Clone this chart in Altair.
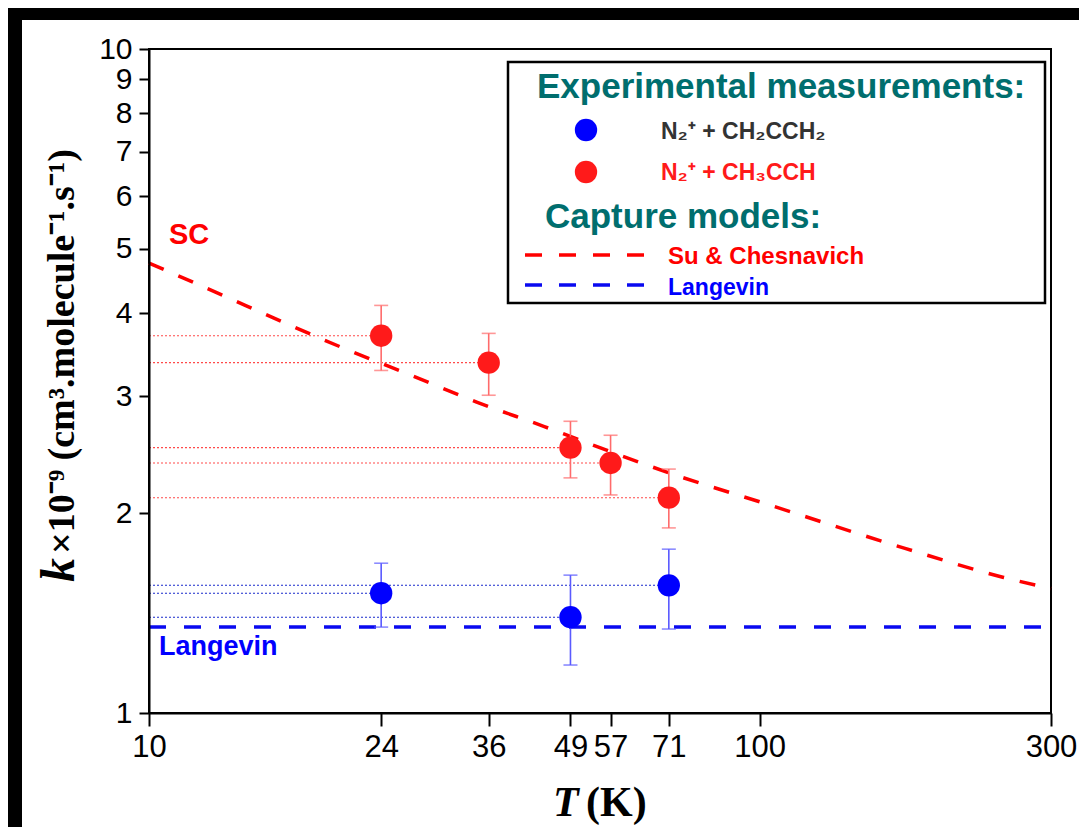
import altair as alt
import pandas as pd

# ---- data ----
T_sc = [10, 11.7, 21.2, 27, 34.4, 44.4, 56, 72, 100, 173, 251, 300]
k_sc = [4.76, 4.47, 3.52, 3.22, 2.94, 2.70, 2.49, 2.29, 2.08, 1.77, 1.60, 1.54]

T_lang = [10, 300]
k_lang = [1.347, 1.347]

T_red = [24, 36, 49, 57, 71]
k_red = [3.70, 3.37, 2.51, 2.38, 2.11]
k_red_lo = [3.28, 3.01, 2.26, 2.13, 1.90]
k_red_hi = [4.11, 3.73, 2.75, 2.62, 2.33]

T_blue = [24, 49, 71]
k_blue = [1.515, 1.394, 1.557]
k_blue_lo = [1.347, 1.181, 1.338]
k_blue_hi = [1.681, 1.613, 1.765]

x_ticks = [10, 24, 36, 49, 57, 71, 100, 300]
y_ticks = [1, 2, 3, 4, 5, 6, 7, 8, 9, 10]

T_min = 10

# ---- tables ----
sc_df = pd.DataFrame({"T": T_sc, "k": k_sc})
lang_df = pd.DataFrame({"T": T_lang, "k": k_lang})
red_df = pd.DataFrame({"T": T_red, "k": k_red, "lo": k_red_lo, "hi": k_red_hi,
                       "T0": [T_min] * len(T_red)})
blue_df = pd.DataFrame({"T": T_blue, "k": k_blue, "lo": k_blue_lo, "hi": k_blue_hi,
                        "T0": [T_min] * len(T_blue)})
one = pd.DataFrame({"a": [0]})

SANS = "Liberation Sans"
SERIF = "Liberation Serif"
TEAL = "#006e6e"
RED = "#ff1a1a"
BLUE = "#0000ff"

xs = alt.Scale(type="log", domain=[10, 300], nice=False)
ys = alt.Scale(type="log", domain=[1, 10], nice=False)

x_axis = alt.Axis(values=x_ticks, format="~g", title=None, grid=False,
                  labelFont=SANS, labelFontSize=31, labelColor="black",
                  labelPadding=6, labelFlush=False, labelOverlap=False,
                  tickSize=13, tickWidth=2, tickColor="black",
                  domainColor="black", domainWidth=2, zindex=1)
y_axis = alt.Axis(values=y_ticks, format="~g", title=None, grid=False,
                  labelFont=SANS, labelFontSize=30, labelColor="black",
                  labelPadding=7, labelFlush=False, labelOverlap=False,
                  labelBound=False,
                  tickSize=10, tickWidth=2, tickColor="black",
                  domainColor="black", domainWidth=2, zindex=1)


def X(field):
    return alt.X(field, type="quantitative", scale=xs, axis=x_axis)


def Y(field):
    return alt.Y(field, type="quantitative", scale=ys, axis=y_axis)


def txt(s, x, y, size, color, font=SANS, weight="bold", style="normal",
        angle=0, align="left", baseline="alphabetic"):
    return alt.Chart(one).mark_text(
        text=s, font=font, fontSize=size, fontWeight=weight, fontStyle=style,
        color=color, angle=angle, align=align, baseline=baseline
    ).encode(x=alt.value(x), y=alt.value(y))


def box(x1, x2, y1, y2, fill, stroke=None, sw=0):
    kw = dict(fill=fill, strokeWidth=sw)
    if stroke:
        kw["stroke"] = stroke
    return alt.Chart(one).mark_rect(**kw).encode(
        x=alt.value(x1), x2=alt.value(x2), y=alt.value(y1), y2=alt.value(y2))


def seg(x1, x2, y, color, dash, width):
    return alt.Chart(one).mark_rule(color=color, strokeDash=dash, strokeWidth=width).encode(
        x=alt.value(x1), x2=alt.value(x2), y=alt.value(y))


# black frame bands of the original picture
bands = box(-141, 930, -41, -29, "black") + box(-141, -127, -41, 780, "black")

# reference dotted lines from the axis to each measurement
red_dots = alt.Chart(red_df).mark_rule(color="#ff4a4a", strokeDash=[2, 2], strokeWidth=1.1).encode(
    x=X("T0"), x2="T", y=Y("k"))
blue_dots = alt.Chart(blue_df).mark_rule(color="#1a2acc", strokeDash=[2, 2], strokeWidth=1.1).encode(
    x=X("T0"), x2="T", y=Y("k"))

# capture models
sc_line = alt.Chart(sc_df).mark_line(color="#ff0000", strokeWidth=3.5, strokeDash=[16, 16],
                                     interpolate="monotone").encode(x=X("T"), y=Y("k"))
lang_line = alt.Chart(lang_df).mark_line(color="#0a0af0", strokeWidth=3.5,
                                         strokeDash=[17, 18]).encode(x=X("T"), y=Y("k"))


def errbars(df, color):
    bars = alt.Chart(df).mark_rule(color=color, strokeWidth=1.6).encode(
        x=X("T"), y=Y("lo"), y2="hi")
    cap_lo = alt.Chart(df).mark_tick(color=color, orient="horizontal", size=14,
                                     thickness=1.6).encode(x=X("T"), y=Y("lo"))
    cap_hi = alt.Chart(df).mark_tick(color=color, orient="horizontal", size=14,
                                     thickness=1.6).encode(x=X("T"), y=Y("hi"))
    return bars + cap_lo + cap_hi


red_err = errbars(red_df, "#ff6b6b")
blue_err = errbars(blue_df, "#5a5aff")

red_pts = alt.Chart(red_df).mark_circle(color=RED, size=500, opacity=1).encode(x=X("T"), y=Y("k"))
blue_pts = alt.Chart(blue_df).mark_circle(color=BLUE, size=500, opacity=1).encode(x=X("T"), y=Y("k"))

# in-plot labels
sc_lbl = txt("SC", 20, 195, 29, "#ff0000")
lang_lbl = txt("Langevin", 10, 606, 27, BLUE)

# legend box
legend = (
    box(359, 896, 13, 254, "white", "black", 2.5)
    + txt("Experimental measurements:", 388, 49, 35, TEAL)
    + alt.Chart(one).mark_circle(color=BLUE, size=500, opacity=1).encode(
        x=alt.value(437), y=alt.value(81))
    + txt("N\u2082\u207a + CH\u2082CCH\u2082", 512, 90, 23, "#333333")
    + alt.Chart(one).mark_circle(color=RED, size=500, opacity=1).encode(
        x=alt.value(437), y=alt.value(123))
    + txt("N\u2082\u207a + CH\u2083CCH", 512, 131, 23, RED)
    + txt("Capture models:", 396, 179, 35, TEAL)
    + seg(376, 497, 206, "#ff0000", [17, 17], 3.5)
    + txt("Su & Chesnavich", 519, 215, 24, "#ff0000")
    + seg(376, 497, 236, "#0a0af0", [17, 17], 3.5)
    + txt("Langevin", 519, 246, 23, BLUE)
)

# axis titles
x_title = (txt("T", 404, 767, 42, "black", font=SERIF, style="italic")
           + txt("(K)", 437, 767, 42, "black", font=SERIF))
y_title = (txt("k", -75, 533, 48, "black", font=SERIF, style="italic", angle=270)
           + txt("\u00d710\u207b\u2079 (cm\u00b3.molecule\u207b\u00b9.s\u207b\u00b9)", -75, 505, 38,
                 "black", font=SERIF, angle=270))

chart = alt.layer(
    bands, red_dots, blue_dots, sc_line, lang_line, red_err, blue_err,
    red_pts, blue_pts, sc_lbl, lang_lbl, legend, x_title, y_title
).properties(
    width=902, height=664,
    padding={"left": 141, "top": 41, "right": 28, "bottom": 114},
    autosize=alt.AutoSizeParams(type="none"),
    background="white",
).configure_view(stroke="black", strokeWidth=2)

chart.save("out.html", embed_options={"renderer": "svg", "actions": False})
